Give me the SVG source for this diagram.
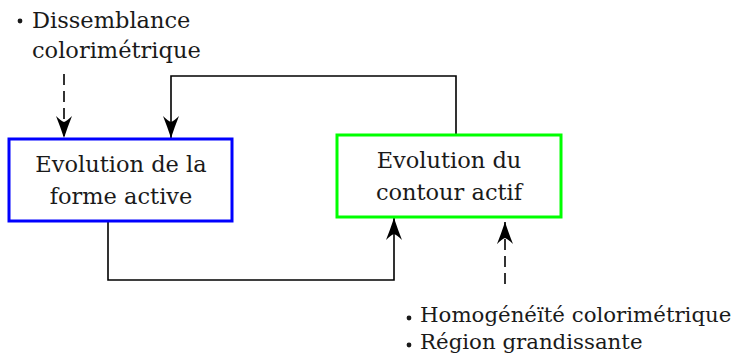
<svg xmlns="http://www.w3.org/2000/svg" width="743" height="356" viewBox="0 0 743 356">
<defs>
<marker id="ah" markerUnits="userSpaceOnUse" markerWidth="24" markerHeight="20" viewBox="-22 -9 24 18" refX="0" refY="0" orient="auto">
<path d="M0,0 Q-12,-4 -22,-8 Q-17,-3 -16,0 Q-17,3 -22,8 Q-12,4 0,0 Z" fill="#000"/>
</marker>
</defs>
<style>
text{font-family:"DejaVu Serif","Liberation Serif",serif;font-size:22.5px;fill:#1a1a1a}
.sm{font-size:21.3px}
.c{stroke:#000;stroke-width:1.6;fill:none}
.d{stroke-dasharray:11,6}
.box{fill:#fff;stroke-width:3}
</style>
<g id="connectors">
<polyline class="c" points="456,135 456,76 171,76 171,138" marker-end="url(#ah)"/>
<polyline class="c" points="108,221 108,280 394,280 394,218" marker-end="url(#ah)"/>
<line class="c d" x1="64" y1="74" x2="64" y2="138" marker-end="url(#ah)"/>
<line class="c d" x1="505" y1="284" x2="505" y2="222" marker-end="url(#ah)"/>
</g>
<g id="forme">
<rect class="box" x="9" y="139" width="223" height="82" stroke="#0000ff"/>
<text x="121" y="172" text-anchor="middle">Evolution de la</text>
<text x="121" y="204" text-anchor="middle">forme active</text>
</g>
<g id="contour">
<rect class="box" x="337" y="135" width="224" height="82" stroke="#00ff00"/>
<text x="449" y="168" text-anchor="middle">Evolution du</text>
<text x="449" y="200" text-anchor="middle">contour actif</text>
</g>
<g id="label-top">
<circle cx="20" cy="21" r="2.4" fill="#1a1a1a"/>
<text x="32" y="28">Dissemblance</text>
<text x="32" y="58">colorimétrique</text>
</g>
<g id="label-bottom">
<circle cx="409" cy="318" r="2.4" fill="#1a1a1a"/>
<text class="sm" x="420" y="322">Homogénéïté colorimétrique</text>
<circle cx="409" cy="345" r="2.4" fill="#1a1a1a"/>
<text class="sm" x="420" y="349">Région grandissante</text>
</g>
</svg>
